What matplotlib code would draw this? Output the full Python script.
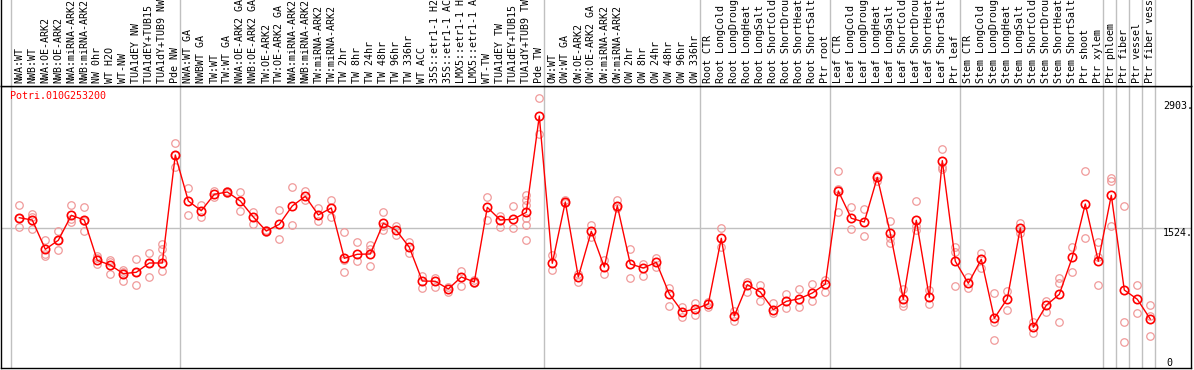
import matplotlib
matplotlib.use("Agg")
import matplotlib.pyplot as plt
import matplotlib.transforms as mtransforms

# ---------------- data ----------------
gene = "Potri.010G253200"

labels_nw = ["NWA:WT", "NWB:WT", "NWA:OE-ARK2", "NWB:OE-ARK2", "NWA:miRNA-ARK2",
             "NWB:miRNA-ARK2", "NW 0hr", "WT H2O", "WT-NW", "TUA1dEY NW",
             "TUA1dEY+TUB15 NW", "TUA1dY+TUB9 NW", "Pde NW"]
labels_tw = ["NWA:WT GA", "NWBWT GA", "TW:WT", "TW:WT GA", "NWA:OE-ARK2 GA",
             "NWB:OE-ARK2 GA", "TW:OE-ARK2", "TW:OE-ARK2 GA", "NWA:miRNA-ARK2",
             "NWB:miRNA-ARK2", "TW:miRNA-ARK2", "TW:miRNA-ARK2", "TW 2hr", "TW 8hr",
             "TW 24hr", "TW 48hr", "TW 96hr", "TW 336hr", "WT ACC", "35S::etr1-1 H2O",
             "35S::etr1-1 ACC", "LMX5::etr1-1 H2O", "LMX5::etr1-1 ACC", "WT-TW",
             "TUA1dEY TW", "TUA1dEY+TUB15 TW", "TUA1dY+TUB9 TW", "Pde TW"]
labels_ow = ["OW:WT", "OW:WT GA", "OW:OE-ARK2", "OW:OE-ARK2 GA", "OW:miRNA-ARK2",
             "OW:miRNA-ARK2", "OW 2hr", "OW 8hr", "OW 24hr", "OW 48hr", "OW 96hr", "OW 336hr"]
labels_root = ["Root CTR", "Root LongCold", "Root LongDrought", "Root LongHeat",
               "Root LongSalt", "Root ShortCold", "Root ShortDrought", "Root ShortHeat",
               "Root ShortSalt", "Ptr root"]
labels_leaf = ["Leaf CTR", "Leaf LongCold", "Leaf LongDrought", "Leaf LongHeat",
               "Leaf LongSalt", "Leaf ShortCold", "Leaf ShortDrought", "Leaf ShortHeat",
               "Leaf ShortSalt", "Ptr leaf"]
labels_stem = ["Stem CTR", "Stem LongCold", "Stem LongDrought", "Stem LongHeat",
               "Stem LongSalt", "Stem ShortCold", "Stem ShortDrought", "Stem ShortHeat",
               "Stem ShortSalt", "Ptr shoot", "Ptr xylem"]
labels_phloem = ["Ptr phloem"]
labels_fiber = ["Ptr fiber"]
labels_vessel = ["Ptr vessel"]
labels_fv = ["Ptr fiber vessel"]

groups = [labels_nw, labels_tw, labels_ow, labels_root, labels_leaf, labels_stem,
          labels_phloem, labels_fiber, labels_vessel, labels_fv]

means = [1636, 1611, 1292, 1390, 1662, 1611, 1172, 1121, 1027, 1042, 1143, 1143, 2319,
         1818, 1712, 1891, 1916, 1818, 1644, 1491, 1564, 1764, 1869, 1666, 1742, 1194,
         1238, 1241, 1575, 1499, 1314, 947, 944, 860, 991, 936, 1749, 1611, 1619, 1695,
         2743,
         1140, 1807, 991, 1488, 1099, 1767, 1132, 1089, 1151, 806, 613, 642,
         697, 1412, 566, 907, 827, 635, 726, 754, 816, 914,
         1927, 1630, 1589, 2076, 1466, 748, 1608, 770, 2257, 1162,
         922, 1183, 541, 754, 1524, 443, 683, 802, 1205, 1785, 1162,
         1880, 849, 748, 533]

replicates = [
    [1771, 1633, 1538], [1676, 1644, 1513], [1393, 1241, 1219], [1491, 1393, 1281],
    [1771, 1627, 1589], [1749, 1600, 1488], [1222, 1197, 1132], [1176, 1157, 1027],
    [1067, 1048, 950], [1183, 1042, 900], [1252, 1143, 987], [1350, 1299, 1197, 1053],
    [2446, 2319, 2185],
    [1956, 1669], [1774, 1640], [1865, 1927], [1927, 1905], [1916, 1712],
    [1701, 1571], [1502, 1480], [1720, 1404], [1970, 1557], [1927, 1829],
    [1738, 1600], [1829, 1640], [1477, 1176, 1050], [1368, 1165],
    [1334, 1299, 1107], [1695, 1546, 1502], [1548, 1448], [1377, 1255],
    [1005, 868], [983, 885], [885, 827], [1053, 893], [958, 922],
    [1865, 1611], [1658, 1532], [1764, 1521],
    [1883, 1829, 1774, 1630, 1557, 1393], [2936, 2544],
    [1230, 1072], [1829, 1796], [1023, 936], [1557, 1423], [1176, 1027],
    [1829, 1738], [1295, 976], [1132, 1002], [1201, 1103], [868, 675],
    [661, 555], [711, 574],
    [718, 667], [1524, 1314], [617, 515], [936, 824], [904, 729], [704, 602],
    [806, 653], [857, 667], [914, 729], [958, 827],
    [2145, 1949, 1698], [1753, 1510], [1731, 1437], [2101, 2036],
    [1600, 1412, 1364], [860, 704, 675], [1818, 1546, 1502], [849, 693],
    [2381, 2191, 2163], [1320, 1266, 889],
    [994, 868], [1249, 1085], [813, 504, 305], [838, 631], [1582, 1466],
    [504, 384], [733, 610], [976, 929, 497], [1320, 1048], [2145, 1412],
    [1372, 1212, 904],
    [2072, 2039, 1546], [1764, 497, 280], [904, 595], [686, 566, 348]]

ytick_values = [0, 1524, 2903]
ytick_labels = ["0", "1524.", "2903."]

# ---------------- layout ----------------
W, H = 1194, 370
fig = plt.figure(figsize=(W / 100, H / 100), dpi=100)
plt.rcParams['font.family'] = ['DejaVu Sans Mono']

left_px, right_px = 1, 1191
header_bottom_px = 86   # from top
plot_bottom_px = 368    # from top

ax = fig.add_axes([left_px / W, (H - plot_bottom_px) / H,
                   (right_px - left_px) / W, (plot_bottom_px - header_bottom_px) / H])
hx = fig.add_axes([left_px / W, (H - header_bottom_px) / H,
                   (right_px - left_px) / W, header_bottom_px / H])

labels = [l for g in groups for l in g]
n = len(labels)
x = list(range(n))

# x-limits such that point i sits at pixel 19.3 + 13 i
xl = (left_px - 19.3) / 13.0
xr = (right_px - 19.3) / 13.0
for a in (ax, hx):
    a.set_xlim(xl, xr)
    a.set_xticks([])
    a.set_yticks([])
    for s in a.spines.values():
        s.set_color("black")
        s.set_linewidth(1.0)
hx.spines["top"].set_visible(False)
hx.set_ylim(0, 1)

ymax = (plot_bottom_px - header_bottom_px) * (1524.0 / (368 - 228))
ax.set_ylim(0, ymax)

# group boundaries
starts = []
c = 0
for g in groups:
    starts.append(c)
    c += len(g)
starts.append(c)
grid_col = "#c0c0c0"
for s in starts:
    ax.axvline(s - 0.66, color=grid_col, lw=1.0, zorder=1)
    hx.axvline(s - 0.66, color=grid_col, lw=1.0, zorder=1)

# horizontal grid at middle tick
ax.axhline(ytick_values[1], color=grid_col, lw=1.0, zorder=1)

# replicates
rep_col = "#f09a9a"
for i, reps in enumerate(replicates):
    ax.plot([i] * len(reps), reps, linestyle="none", marker="o", markersize=5.4,
            markerfacecolor="none", markeredgecolor=rep_col, markeredgewidth=0.9,
            zorder=2)

# mean line and markers
ax.plot(x, means, color="#ff0000", lw=1.0, zorder=3)
ax.plot(x, means, linestyle="none", marker="o", markersize=6.0,
        markerfacecolor="none", markeredgecolor="#ff0000", markeredgewidth=1.2,
        zorder=4)

# header labels
trans_h = mtransforms.blended_transform_factory(hx.transData, hx.transAxes)
for i, lab in enumerate(labels):
    hx.text(i, 3.0 / header_bottom_px, lab, rotation=90, ha="center", va="bottom",
            fontsize=7.2, transform=trans_h, color="black",
            family="DejaVu Sans Mono")

# gene title
ax.text(9.0 / (right_px - left_px) - 0.0, 1 - 5.0 / (plot_bottom_px - header_bottom_px),
        gene, transform=ax.transAxes, ha="left", va="top", fontsize=7.2,
        color="#ff0000", family="DejaVu Sans Mono")

# right value labels
trans_y = mtransforms.blended_transform_factory(ax.transAxes, ax.transData)
tx = (1163 - left_px) / (right_px - left_px)
ax.text(tx, ytick_values[2], ytick_labels[2], transform=trans_y, ha="left", va="top",
        fontsize=7.2, family="DejaVu Sans Mono")
ax.text(tx, ytick_values[1], ytick_labels[1], transform=trans_y, ha="left", va="top",
        fontsize=7.2, family="DejaVu Sans Mono")
ax.text(tx + 3 / 1190, ytick_values[0], ytick_labels[0], transform=trans_y, ha="left",
        va="bottom", fontsize=7.2, family="DejaVu Sans Mono")

fig.savefig("out.png", dpi=100)
